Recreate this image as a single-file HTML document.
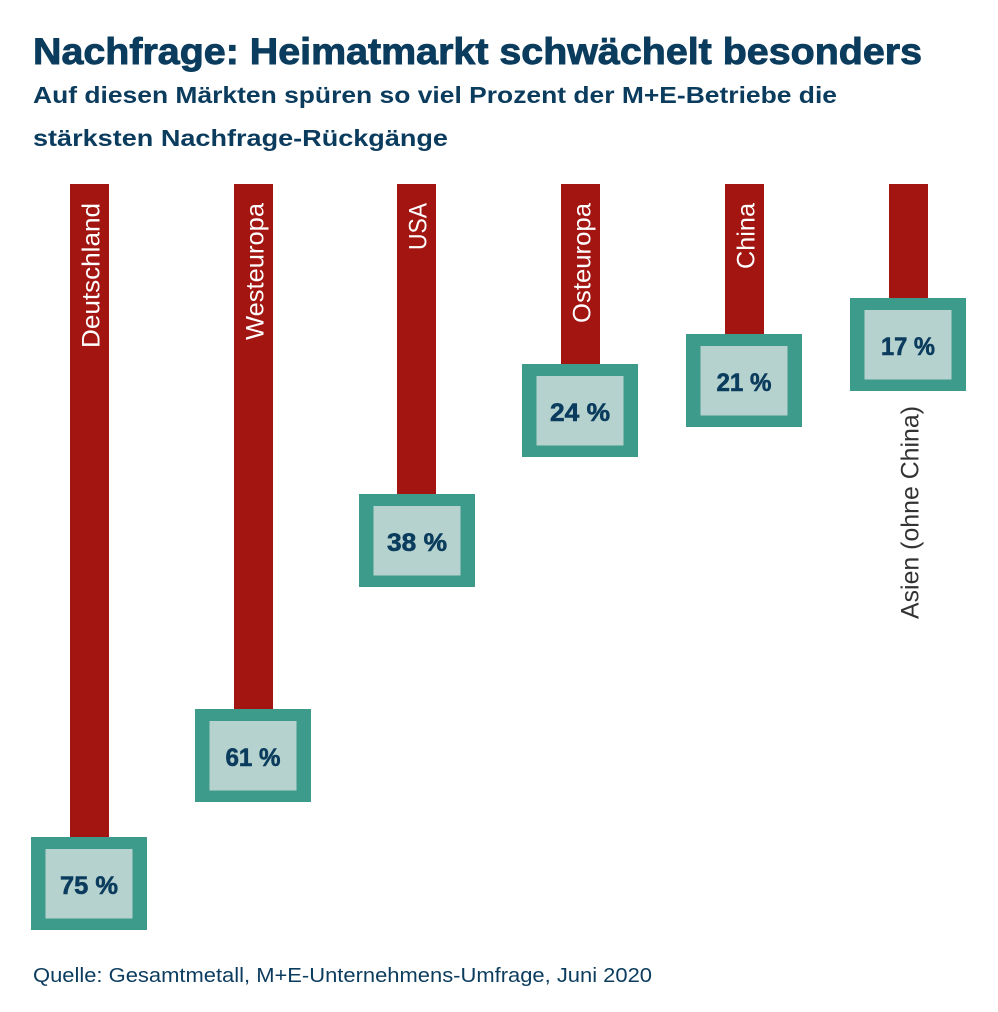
<!DOCTYPE html>
<html>
<head>
<meta charset="utf-8">
<style>
  html,body{margin:0;padding:0;background:#fff;}
  svg{display:block;}
  text{font-family:"Liberation Sans", sans-serif;}
</style>
</head>
<body>
<svg width="998" height="1012" viewBox="0 0 998 1012" xmlns="http://www.w3.org/2000/svg">
  <rect x="0" y="0" width="998" height="1012" fill="#ffffff"/>

  <!-- Title -->
  <text x="33" y="64" font-size="37" font-weight="bold" fill="#0b3c5e" stroke="#0b3c5e" stroke-width="0.9" textLength="889" lengthAdjust="spacingAndGlyphs">Nachfrage: Heimatmarkt schwächelt besonders</text>
  <text x="33" y="103" font-size="23" font-weight="bold" fill="#0b3c5e" textLength="804" lengthAdjust="spacingAndGlyphs">Auf diesen Märkten spüren so viel Prozent der M+E-Betriebe die</text>
  <text x="33" y="146" font-size="23" font-weight="bold" fill="#0b3c5e" textLength="415" lengthAdjust="spacingAndGlyphs">stärksten Nachfrage-Rückgänge</text>

  <!-- Bars -->
  <g fill="#a31511">
    <rect x="70" y="184" width="39" height="655"/>
    <rect x="234" y="184" width="39" height="527"/>
    <rect x="397" y="184" width="39" height="312"/>
    <rect x="561" y="184" width="39" height="182"/>
    <rect x="725" y="184" width="39" height="152"/>
    <rect x="889" y="184" width="39" height="116"/>
  </g>

  <!-- Bar labels -->
  <g fill="#ffffff" font-size="25">
    <text transform="translate(99.5,203) rotate(-90)" text-anchor="end" textLength="145" lengthAdjust="spacingAndGlyphs">Deutschland</text>
    <text transform="translate(263.5,203) rotate(-90)" text-anchor="end" textLength="137" lengthAdjust="spacingAndGlyphs">Westeuropa</text>
    <text transform="translate(426.5,203) rotate(-90)" text-anchor="end" textLength="47" lengthAdjust="spacingAndGlyphs">USA</text>
    <text transform="translate(590.5,203) rotate(-90)" text-anchor="end" textLength="120" lengthAdjust="spacingAndGlyphs">Osteuropa</text>
    <text transform="translate(754.5,203) rotate(-90)" text-anchor="end" textLength="66" lengthAdjust="spacingAndGlyphs">China</text>
  </g>
  <text transform="translate(918.5,406) rotate(-90)" text-anchor="end" font-size="25" fill="#333333" textLength="213" lengthAdjust="spacingAndGlyphs">Asien (ohne China)</text>

  <!-- Boxes -->
  <g>
    <rect x="31" y="837" width="116" height="93" fill="#3d9b8b"/>
    <rect x="45.5" y="849" width="87" height="69.5" fill="#b6d2ce"/>
    <rect x="195" y="709" width="116" height="93" fill="#3d9b8b"/>
    <rect x="209.5" y="721" width="87" height="69.5" fill="#b6d2ce"/>
    <rect x="359" y="494" width="116" height="93" fill="#3d9b8b"/>
    <rect x="373.5" y="506" width="87" height="69.5" fill="#b6d2ce"/>
    <rect x="522" y="364" width="116" height="93" fill="#3d9b8b"/>
    <rect x="536.5" y="376" width="87" height="69.5" fill="#b6d2ce"/>
    <rect x="686" y="334" width="116" height="93" fill="#3d9b8b"/>
    <rect x="700.5" y="346" width="87" height="69.5" fill="#b6d2ce"/>
    <rect x="850" y="298" width="116" height="93" fill="#3d9b8b"/>
    <rect x="864.5" y="310" width="87" height="69.5" fill="#b6d2ce"/>
  </g>

  <!-- Percent labels -->
  <g fill="#0b3c5e" stroke="#0b3c5e" stroke-width="0.6" font-size="25" font-weight="bold" text-anchor="middle">
    <text x="89" y="894" textLength="58" lengthAdjust="spacingAndGlyphs">75 %</text>
    <text x="253" y="766" textLength="55" lengthAdjust="spacingAndGlyphs">61 %</text>
    <text x="417" y="551" textLength="60" lengthAdjust="spacingAndGlyphs">38 %</text>
    <text x="580" y="421" textLength="60" lengthAdjust="spacingAndGlyphs">24 %</text>
    <text x="744" y="391" textLength="55" lengthAdjust="spacingAndGlyphs">21 %</text>
    <text x="908" y="355" textLength="54" lengthAdjust="spacingAndGlyphs">17 %</text>
  </g>

  <!-- Footer -->
  <text x="33" y="982" font-size="20" fill="#0b3c5e" textLength="619" lengthAdjust="spacingAndGlyphs">Quelle: Gesamtmetall, M+E-Unternehmens-Umfrage, Juni 2020</text>
</svg>
</body>
</html>
